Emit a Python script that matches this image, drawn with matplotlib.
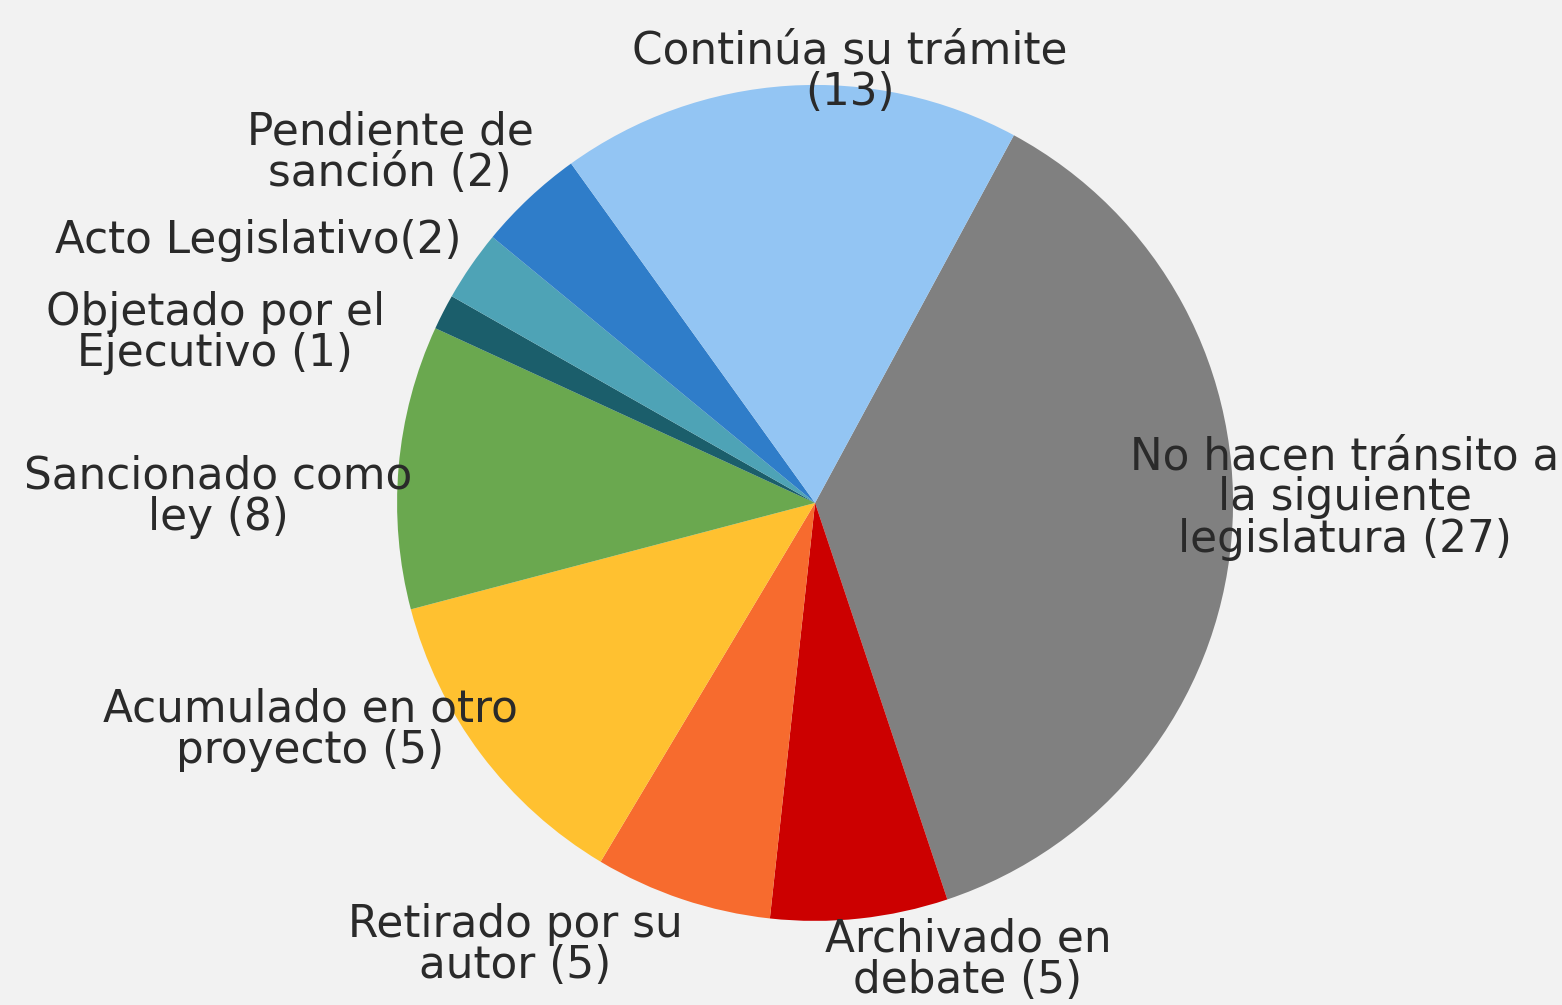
import numpy as np
import matplotlib.pyplot as plt

# slices, clockwise starting at the grey one
labels = ["No hacen tránsito a\nla siguiente\nlegislatura (27)",
          "Archivado en\ndebate (5)",
          "Retirado por su\nautor (5)",
          "Acumulado en otro\nproyecto (5)",
          "Sancionado como\nley (8)",
          "Objetado por el\nEjecutivo (1)",
          "Acto Legislativo(2)",
          "Pendiente de\nsanción (2)",
          "Continúa su trámite\n(13)"]
# slice sizes as drawn in the picture
values = [27, 5, 5, 9, 8, 1, 2, 3, 13]
colors = ["#808080", "#cc0000", "#f76b2e", "#ffc130", "#6aa84f",
          "#1b5e6b", "#4ea3b6", "#2f7dc9", "#93c5f3"]

# label centres in pie-radius units
label_pos = [(1.268, 0.012), (0.366, -1.093), (-0.718, -1.057),
             (-1.208, -0.543), (-1.428, 0.014), (-1.435, 0.407),
             (-1.333, 0.627), (-1.017, 0.837), (0.084, 1.031)]

fig = plt.figure(figsize=(15.62, 10.05), dpi=100)
fig.patch.set_facecolor("#f2f2f2")
ax = fig.add_axes([0, 0, 1, 1])
ax.set_facecolor("#f2f2f2")

ax.pie(values, colors=colors, startangle=61.6, counterclock=False,
       radius=1, center=(0, 0), wedgeprops=dict(linewidth=0))

for lab, (x, y) in zip(labels, label_pos):
    ax.text(x, y, lab, ha="center", va="center", fontsize=31.5,
            color="#2a2a2a", linespacing=0.95, family="DejaVu Sans")

ax.set_xlim(-1.950, 1.787)
ax.set_ylim(-1.201, 1.203)
ax.set_aspect("equal")
ax.axis("off")

fig.savefig("out.png", dpi=100, facecolor=fig.get_facecolor())
